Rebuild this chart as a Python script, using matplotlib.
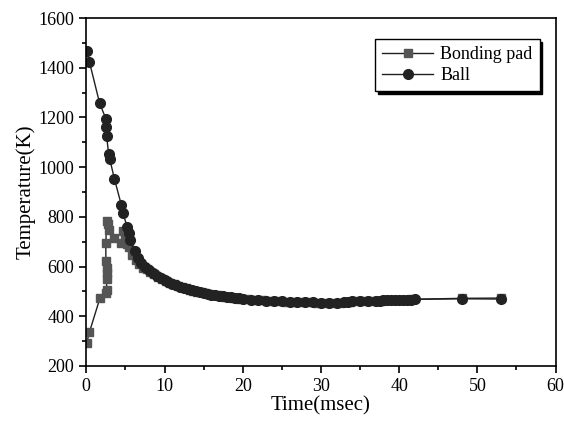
import matplotlib
matplotlib.use("Agg")
import matplotlib.pyplot as plt
from matplotlib.ticker import MultipleLocator

plt.rcParams['font.family'] = ['Liberation Serif', 'DejaVu Serif']

# ball temperature
ball_t = [0.05, 0.4, 1.7, 2.5, 2.5, 2.6, 2.85, 3.0, 3.6, 4.5, 4.7, 5.2, 5.4, 5.55,
          6.2, 6.6, 7.0, 7.5, 8.0, 8.5, 9.0, 9.5, 10.0, 10.5, 11.0, 11.5, 12.0,
          12.5, 13.0, 13.5, 14.0, 14.5, 15.0, 15.5, 16.0, 16.5, 17.0, 17.5, 18.0,
          18.5, 19.0, 19.5, 20.0, 21.0, 22.0, 23.0, 24.0, 25.0, 26.0, 27.0, 28.0,
          29.0, 30.0, 31.0, 32.0, 33.0, 33.5, 34.0, 35.0, 36.0, 37.0, 37.5, 38.0,
          38.5, 39.0, 39.5, 40.0, 40.5, 41.0, 41.5, 42.0, 48.0, 53.0]
ball_T = [1466, 1424, 1258, 1195, 1160, 1126, 1054, 1033, 952, 846, 815, 761, 735, 705,
          661, 634, 615, 598, 584, 572, 562, 553, 545, 537, 531, 525, 519,
          514, 509, 505, 501, 497, 494, 490, 487, 485, 482, 480, 478,
          476, 474, 472, 470, 467, 465, 463, 461, 460, 458, 457, 457,
          456, 455, 455, 455, 456, 458, 460, 461, 462, 462, 463, 464,
          464, 465, 465, 466, 466, 467, 467, 468, 470, 469]

# bonding pad temperature
pad_t = [0.05, 0.4, 1.75, 2.5, 2.6, 2.6, 2.6, 2.6, 2.5, 2.5, 2.6, 2.75, 2.95, 3.55,
         4.5, 4.65, 4.9, 5.2, 5.5, 5.8, 6.3, 6.8, 7.2, 7.7, 8.2, 8.7, 9.2, 9.7,
         10.2, 10.7, 11.2, 11.7, 12.2, 12.7, 13.2, 13.7, 14.2, 14.7, 15.2, 15.7,
         16.2, 16.7, 17.2, 17.7, 18.2, 18.7, 19.2, 19.7, 20.5, 21.5, 22.5, 23.5,
         24.5, 25.5, 26.5, 27.5, 28.5, 29.5, 30.5, 31.5, 32.5, 33.2, 33.7, 34.5,
         35.5, 36.5, 37.2, 37.7, 38.2, 38.7, 39.2, 39.7, 40.2, 40.7, 41.2, 41.7,
         48.0, 53.0]
pad_T = [292, 336, 473, 493, 507, 551, 574, 594, 621, 695, 782, 770, 748, 715,
         695, 744, 720, 690, 680, 647, 628, 610, 596, 589, 578, 568, 559, 550,
         542, 535, 528, 522, 517, 512, 507, 503, 499, 496, 492, 489,
         486, 484, 481, 479, 477, 475, 473, 471, 468, 466, 464, 462,
         461, 459, 458, 457, 456, 455, 455, 455, 455, 457, 459, 460,
         461, 462, 463, 463, 464, 465, 465, 466, 466, 467, 467, 468,
         472, 473]

fig = plt.figure(figsize=(5.64, 4.22), dpi=100)
ax = fig.add_axes([0.153, 0.133, 0.832, 0.824])

ax.plot(pad_t, pad_T, color='#202020', lw=1, marker='s', ms=6,
        mfc='#555555', mec='#555555', label='Bonding pad')
ax.plot(ball_t, ball_T, color='#202020', lw=1, marker='o', ms=7,
        mfc='#222222', mec='#222222', label='Ball')

ax.set_xlim(0, 60)
ax.set_ylim(200, 1600)
ax.xaxis.set_major_locator(MultipleLocator(10))
ax.xaxis.set_minor_locator(MultipleLocator(5))
ax.yaxis.set_major_locator(MultipleLocator(200))
ax.yaxis.set_minor_locator(MultipleLocator(100))
ax.tick_params(which='both', direction='out', width=1.2, labelsize=13)
ax.tick_params(which='major', length=5)
ax.tick_params(which='minor', length=3)
ax.tick_params(top=False, right=False)
for s in ax.spines.values():
    s.set_linewidth(1.2)

ax.set_xlabel('Time(msec)', fontsize=15, labelpad=1)
ax.set_ylabel('Temperature(K)', fontsize=15, labelpad=2)

leg = ax.legend(loc='upper right', bbox_to_anchor=(0.966, 0.94), borderaxespad=0,
                fontsize=13, fancybox=False, edgecolor='black', framealpha=1,
                shadow={'color': 'black', 'alpha': 1},
                handlelength=2.8, handletextpad=0.4, borderpad=0.4,
                labelspacing=0.2)
leg.get_frame().set_linewidth(1)

fig.savefig('out.png', dpi=100)
